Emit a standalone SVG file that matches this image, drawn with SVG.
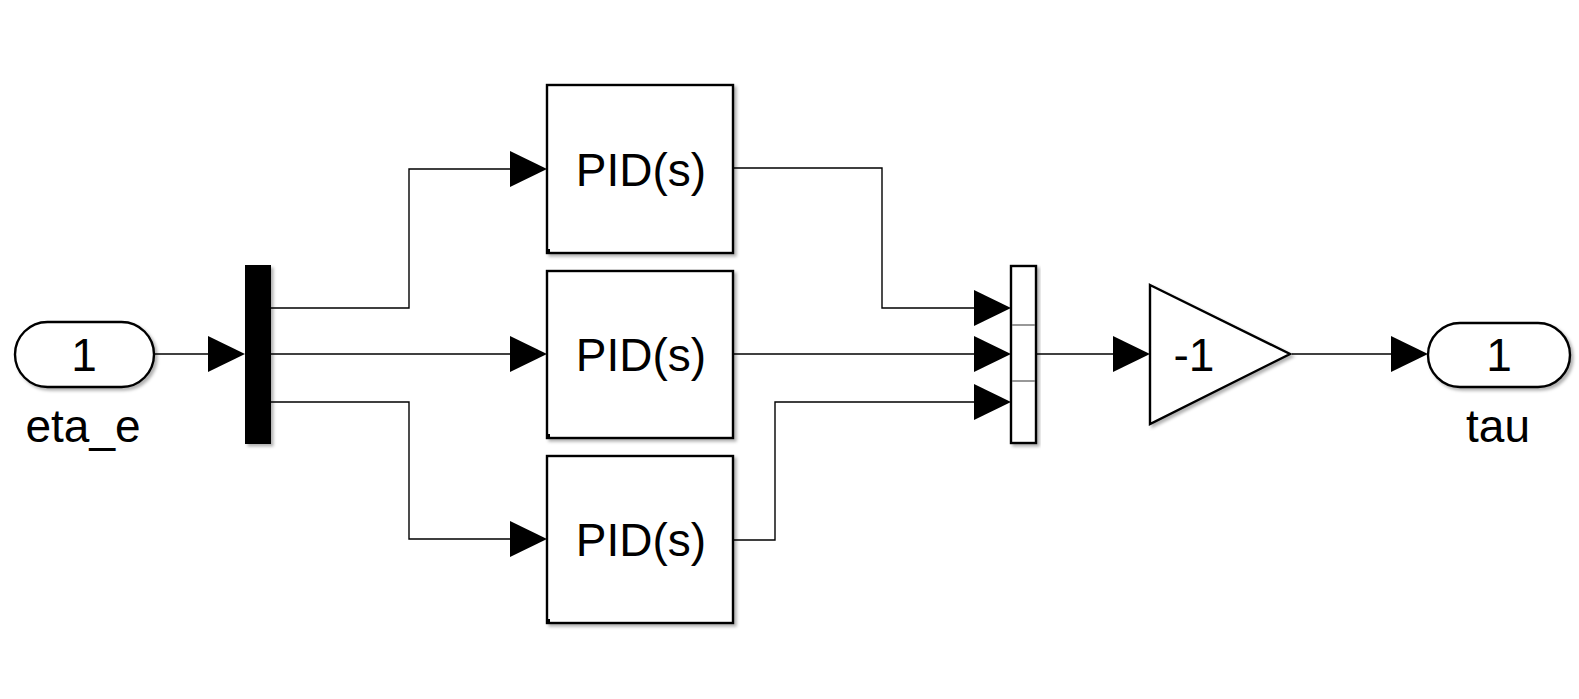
<svg xmlns="http://www.w3.org/2000/svg" width="1579" height="699" viewBox="0 0 1579 699">
<defs>
<style>
.blk{fill:#fff;stroke:#000;stroke-width:2.4}
.line{fill:none;stroke:#000;stroke-width:1.4}
.arr{fill:#000}
.t{font-family:"Liberation Sans",Arial,sans-serif;font-size:46px;fill:#000;text-anchor:middle}
</style>
<filter id="sh" x="-10%" y="-10%" width="130%" height="130%">
<feDropShadow dx="2.5" dy="2.5" stdDeviation="1.5" flood-color="#000" flood-opacity="0.3"/>
</filter>
<path id="ah" d="M0,0 L-37,-18 L-37,18 Z"/>
</defs>
<rect width="1579" height="699" fill="#fff"/>
<g id="connectors">
<path class="line" d="M154,354 H210"/>
<path class="line" d="M271,308 H409 V169 H512"/>
<path class="line" d="M271,354 H512"/>
<path class="line" d="M271,402 H409 V539 H512"/>
<path class="line" d="M733,168 H882 V308 H976"/>
<path class="line" d="M733,354 H976"/>
<path class="line" d="M733,540 H775 V402 H976"/>
<path class="line" d="M1036,354 H1115"/>
<path class="line" d="M1292,354 H1394"/>
<use href="#ah" class="arr" x="245" y="354"/>
<use href="#ah" class="arr" x="547" y="169"/>
<use href="#ah" class="arr" x="547" y="354"/>
<use href="#ah" class="arr" x="547" y="539"/>
<use href="#ah" class="arr" x="1011" y="308"/>
<use href="#ah" class="arr" x="1011" y="354"/>
<use href="#ah" class="arr" x="1011" y="402"/>
<use href="#ah" class="arr" x="1150" y="354"/>
<use href="#ah" class="arr" x="1428" y="354"/>
</g>
<g id="inport">
<rect class="blk" x="15" y="322" width="139" height="65" rx="32.5" filter="url(#sh)"/>
<text class="t" x="84" y="371">1</text>
<text class="t" x="83" y="442">eta_e</text>
</g>
<g id="demux">
<rect x="245" y="265" width="26" height="179" fill="#000" filter="url(#sh)"/>
</g>
<g id="pid1">
<rect class="blk" x="547" y="85" width="186" height="168" filter="url(#sh)"/>
<rect x="546" y="249" width="4" height="4" fill="#000"/>
<text class="t" x="641" y="186">PID(s)</text>
</g>
<g id="pid2">
<rect class="blk" x="547" y="271" width="186" height="167" filter="url(#sh)"/>
<rect x="546" y="434" width="4" height="4" fill="#000"/>
<text class="t" x="641" y="371">PID(s)</text>
</g>
<g id="pid3">
<rect class="blk" x="547" y="456" width="186" height="167" filter="url(#sh)"/>
<rect x="546" y="619" width="4" height="4" fill="#000"/>
<text class="t" x="641" y="556">PID(s)</text>
</g>
<g id="mux">
<rect class="blk" x="1011" y="266" width="25" height="177" filter="url(#sh)"/>
<path d="M1012,325 H1035 M1012,381 H1035" stroke="#777" stroke-width="1.5"/>
</g>
<g id="gain">
<path class="blk" d="M1150,285 L1290,354 L1150,424 Z" filter="url(#sh)"/>
<text class="t" x="1194" y="371">-1</text>
</g>
<g id="outport">
<rect class="blk" x="1428" y="323" width="142" height="64" rx="32" filter="url(#sh)"/>
<text class="t" x="1499" y="371">1</text>
<text class="t" x="1498" y="442">tau</text>
</g>
</svg>
